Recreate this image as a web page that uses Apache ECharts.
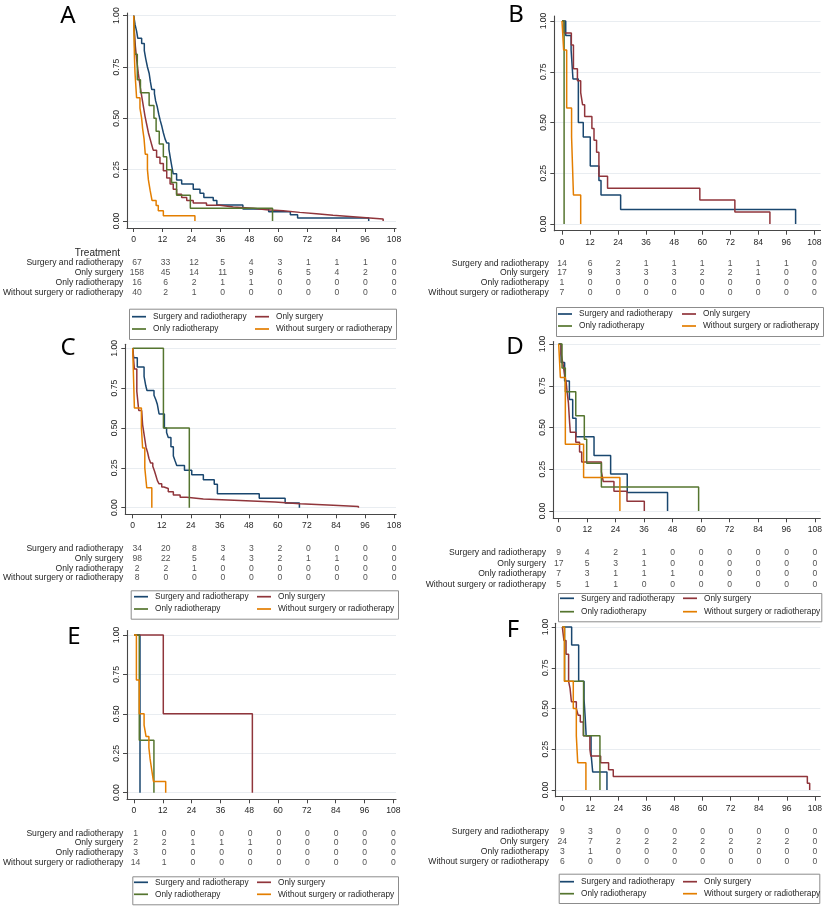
<!DOCTYPE html>
<html><head><meta charset="utf-8">
<script src="https://cdn.jsdelivr.net/npm/echarts@6/dist/echarts.min.js"></script>
<style>html,body{margin:0;padding:0;background:#fff}#c{width:825px;height:908px}</style>
</head><body><div id="c"></div>
<script>
// ---------- shared categories / ticks ----------
const ticks = [0,12,24,36,48,60,72,84,96,108];
const yTicks = [0,0.25,0.5,0.75,1];
const groups = ['Surgery and radiotherapy','Only surgery','Only radiotherapy','Without surgery or radiotherapy'];
const panelLetters = ['A','B','C','D','E','F'];

// ---------- Panel A ----------
const A_sr = [[0,1],[0.6,0.955],[1.2,0.925],[1.7,0.89],[3.3,0.865],[4.4,0.83],[5.0,0.79],[5.7,0.75],[6.4,0.72],[6.9,0.68],[7.5,0.64],[8.6,0.62],[9.1,0.585],[9.8,0.555],[10.4,0.52],[11.0,0.49],[11.7,0.46],[12.3,0.43],[13.0,0.40],[13.7,0.38],[14.6,0.35],[15.3,0.30],[15.9,0.26],[16.4,0.23],[17.8,0.20],[19.9,0.18],[24.7,0.155],[27.5,0.135],[29.1,0.115],[33.0,0.10],[34.5,0.078],[45.3,0.058],[56,0.045],[65,0.03],[68,0.015],[97.5,0]];
const A_os = [[0,1],[0.3,0.92],[0.7,0.85],[1.2,0.79],[1.9,0.72],[2.6,0.66],[3.3,0.61],[4.0,0.56],[4.7,0.51],[5.4,0.47],[6.1,0.43],[6.8,0.40],[7.5,0.37],[8.1,0.345],[9.5,0.31],[10.9,0.28],[12.3,0.245],[13.7,0.21],[15.1,0.18],[16.4,0.155],[17.8,0.13],[19.9,0.115],[22,0.10],[24.7,0.088],[30.2,0.077],[35.8,0.068],[41.3,0.062],[49.6,0.055],[55.1,0.05],[62,0.042],[68.9,0.035],[75.8,0.028],[82.7,0.022],[89.6,0.016],[96.5,0.01],[103.5,0]];
const A_or = [[0,1],[0.5,0.8125],[1.5,0.6875],[2.8,0.625],[6.4,0.5625],[8.4,0.5],[9.3,0.4375],[10.6,0.375],[12.3,0.3125],[13.7,0.25],[15.7,0.1875],[17.8,0.125],[23.5,0.0625],[57.6,0]];
const A_w = [[0,1],[0.3,0.8],[0.55,0.72],[1.2,0.6],[2.6,0.55],[3.3,0.5],[3.7,0.45],[4.3,0.4],[4.8,0.325],[5.7,0.25],[6.1,0.2],[6.8,0.15],[7.6,0.1],[9.3,0.075],[10.2,0.05],[12.3,0.025],[25.4,0]];
const A_risk_sr = [67,33,12,5,4,3,1,1,1,0];
const A_risk_os = [158,45,14,11,9,6,5,4,2,0];
const A_risk_or = [16,6,2,1,1,0,0,0,0,0];
const A_risk_w = [40,2,1,0,0,0,0,0,0,0];

// ---------- Panel B ----------
const B_sr = [[0,1],[1.6,0.929],[3.9,0.857],[4.7,0.714],[7.0,0.5],[9.1,0.429],[12.1,0.286],[15.8,0.214],[16.7,0.143],[25.1,0.0714],[100,0]];
const B_os = [[0,1],[0.9,0.941],[4.0,0.882],[4.9,0.765],[6.6,0.706],[8.0,0.647],[8.8,0.588],[9.7,0.529],[12.8,0.471],[13.7,0.412],[14.8,0.353],[15.8,0.235],[19.5,0.176],[59,0.118],[74,0.059],[89,0]];
const B_or = [[0,1],[0.9,0]];
const B_w = [[0,1],[0.7,0.857],[2.0,0.571],[4.1,0.429],[4.9,0.143],[8.0,0]];
const B_risk_sr = [14,6,2,1,1,1,1,1,1,0];
const B_risk_os = [17,9,3,3,3,2,2,1,0,0];
const B_risk_or = [1,0,0,0,0,0,0,0,0,0];
const B_risk_w = [7,0,0,0,0,0,0,0,0,0];

// ---------- Panel C ----------
const C_sr = [[0,1],[0.4,0.941],[1.9,0.882],[4.7,0.824],[5.4,0.765],[5.9,0.735],[8.8,0.706],[9.6,0.676],[10.2,0.647],[10.9,0.588],[13.1,0.5],[14.0,0.471],[14.7,0.441],[15.8,0.382],[16.8,0.324],[17.5,0.294],[18.2,0.265],[21.4,0.235],[24.4,0.206],[29.2,0.176],[33.7,0.147],[35.0,0.088],[52.3,0.059],[63.0,0.029],[68.9,0]];
const C_os = [[0,1],[0.7,0.87],[1.7,0.73],[2.5,0.61],[3.7,0.6],[4.1,0.52],[4.5,0.48],[5.0,0.43],[5.5,0.38],[6.1,0.35],[6.7,0.31],[7.4,0.28],[8.3,0.26],[9.0,0.23],[9.6,0.2],[10.2,0.17],[10.9,0.15],[12.0,0.13],[12.9,0.12],[14.7,0.1],[16.8,0.08],[19.6,0.065],[22.3,0.055],[29.2,0.045],[44.4,0.035],[58.8,0.025],[69.2,0.015],[82.9,0.008],[93.3,0]];
const C_or = [[0,1],[12.7,0.5],[23.4,0]];
const C_w = [[0,1],[0.7,0.625],[3.6,0.5],[4.1,0.375],[5.0,0.25],[5.8,0.125],[7.9,0]];
const C_risk_sr = [34,20,8,3,3,2,0,0,0,0];
const C_risk_os = [98,22,5,4,3,2,1,1,0,0];
const C_risk_or = [2,2,1,0,0,0,0,0,0,0];
const C_risk_w = [8,0,0,0,0,0,0,0,0,0];

// ---------- Panel D ----------
const D_sr = [[0,1],[1.0,0.889],[2.5,0.778],[4.5,0.667],[5.9,0.556],[7.3,0.444],[14.9,0.333],[21.9,0.222],[28.9,0.111],[45.9,0]];
const D_os = [[0,1],[1.0,0.941],[1.8,0.882],[2.4,0.824],[3.2,0.765],[3.6,0.706],[4.1,0.647],[4.6,0.529],[4.9,0.471],[7.2,0.412],[8.8,0.353],[9.7,0.294],[18.0,0.235],[18.8,0.176],[23.3,0.118],[28.8,0.059],[36.1,0]];
const D_or = [[0,1],[1.4,0.857],[2.8,0.714],[7.2,0.571],[10.8,0.429],[11.8,0.286],[18.0,0.143],[59.0,0]];
const D_w = [[0,1],[0.7,0.8],[2.8,0.4],[10.5,0.2],[25.8,0]];
const D_risk_sr = [9,4,2,1,0,0,0,0,0,0];
const D_risk_os = [17,5,3,1,0,0,0,0,0,0];
const D_risk_or = [7,3,1,1,1,0,0,0,0,0];
const D_risk_w = [5,1,1,0,0,0,0,0,0,0];

// ---------- Panel E ----------
const E_sr = [[0,1],[2.5,0]];
const E_os = [[0,1],[12.2,0.5],[49.3,0]];
const E_or = [[0,1],[2.2,0.333],[8.3,0]];
const E_w = [[0,1],[1.0,0.714],[2.2,0.5],[4.2,0.429],[5.0,0.357],[6.2,0.286],[6.7,0.214],[7.4,0.143],[8.1,0.071],[13.2,0]];
const E_risk_sr = [1,0,0,0,0,0,0,0,0,0];
const E_risk_os = [2,2,1,1,1,0,0,0,0,0];
const E_risk_or = [3,0,0,0,0,0,0,0,0,0];
const E_risk_w = [14,1,0,0,0,0,0,0,0,0];

// ---------- Panel F ----------
const F_sr = [[0,1],[4.0,0.889],[7.0,0.667],[9.3,0.556],[9.8,0.444],[10.2,0.333],[12.3,0.222],[13.0,0.111],[19.1,0]];
const F_os = [[0,1],[0.7,0.917],[1.6,0.833],[2.7,0.667],[3.3,0.625],[3.9,0.542],[6.0,0.5],[6.8,0.458],[7.7,0.417],[9.0,0.333],[11.8,0.25],[12.2,0.208],[16.4,0.167],[19.8,0.125],[21.8,0.083],[104.8,0.042],[105.8,0]];
const F_or = [[0,1],[1.0,0.667],[9.1,0.333],[16.1,0]];
const F_w = [[0,1],[0.9,0.667],[4.7,0.5],[6.0,0.333],[6.6,0.167],[10.1,0]];
const F_risk_sr = [9,3,0,0,0,0,0,0,0,0];
const F_risk_os = [24,7,2,2,2,2,2,2,2,0];
const F_risk_or = [3,1,0,0,0,0,0,0,0,0];
const F_risk_w = [6,0,0,0,0,0,0,0,0,0];

const curves = {A:[A_sr,A_os,A_or,A_w],B:[B_sr,B_os,B_or,B_w],C:[C_sr,C_os,C_or,C_w],D:[D_sr,D_os,D_or,D_w],E:[E_sr,E_os,E_or,E_w],F:[F_sr,F_os,F_or,F_w]};
const risks = {A:[A_risk_sr,A_risk_os,A_risk_or,A_risk_w],B:[B_risk_sr,B_risk_os,B_risk_or,B_risk_w],C:[C_risk_sr,C_risk_os,C_risk_or,C_risk_w],D:[D_risk_sr,D_risk_os,D_risk_or,D_risk_w],E:[E_risk_sr,E_risk_os,E_risk_or,E_risk_w],F:[F_risk_sr,F_risk_os,F_risk_or,F_risk_w]};

// ---------- styling / layout (pixels) ----------
const colors = ['#1a476f','#90353b','#55752f','#e37e00'];
const FONT = '"Liberation Sans", Arial, sans-serif';
const TXT = '#262626';
const AX = '#474747';
const layout = {
  A:{x0:133.7,x108:394,left:127,right:396,y1:15.7,y0:221,top:13,bottom:228,rowTop:258.1,rowH:39.1,rowM:7,box:[127,306.7,394,337],rows:[316.7,329],l1:132,l2:255,letter:[68,16]},
  B:{x0:562,x108:814.3,left:554.3,right:820.5,y1:21,y0:224,top:16,bottom:230.7,rowTop:258.5,rowH:38.7,rowM:5.6,box:[554,305,821,334],rows:[314,326],l1:558,l2:682,letter:[516,15]},
  C:{x0:132.7,x108:394,left:125.3,right:396,y1:348.3,y0:507.7,top:344.3,bottom:514.3,rowTop:543.4,rowH:39.6,rowM:6.6,box:[128.7,588.3,396,616.7],rows:[596.7,609],l1:134,l2:257,letter:[68,348]},
  D:{x0:558.7,x108:815,left:553.3,right:820.5,y1:344,y0:511,top:341.5,bottom:518.3,rowTop:547.4,rowH:42.1,rowM:7.3,box:[556,591,819.3,619.3],rows:[598.3,611.7],l1:560,l2:683,letter:[515,347]},
  E:{x0:134,x108:393.3,left:127,right:396,y1:635,y0:792.7,top:630.5,bottom:799.3,rowTop:828.4,rowH:39.2,rowM:5.3,box:[130.3,874.3,396,902.3],rows:[882.3,894.3],l1:134,l2:257,letter:[74,637]},
  F:{x0:562.3,x108:815,left:555.7,right:820.5,y1:627,y0:790,top:623.3,bottom:796.7,rowTop:826.7,rowH:40,rowM:7,box:[556.7,871.7,817.3,901],rows:[881.7,893.7],l1:560,l2:683,letter:[513,630]}
};

const option = {animation:false, backgroundColor:'#fff', grid:[], xAxis:[], yAxis:[], series:[], legend:[], graphic:[]};

panelLetters.forEach((P, pi) => {
  const L = layout[P];
  const sx = (L.x108 - L.x0) / 108;
  const xmin = -(L.x0 - L.left) / sx, xmax = 108 + (L.right - L.x108) / sx;
  const sy = (L.y0 - L.y1);
  const ymin = -(L.bottom - L.y0) / sy, ymax = 1 + (L.y1 - L.top) / sy;
  const g = option.grid.length;
  // main plot grid
  option.grid.push({left:L.left, top:L.top, width:L.right - L.left, height:L.bottom - L.top, containLabel:false});
  option.xAxis.push({type:'value', gridIndex:g, min:xmin, max:xmax,
    axisLine:{show:true, onZero:false, lineStyle:{color:AX, width:1.1}},
    axisTick:{show:true, length:4, inside:false, customValues:ticks, lineStyle:{color:AX}},
    axisLabel:{customValues:ticks, fontSize:8.6, color:TXT, margin:7, fontFamily:FONT},
    splitLine:{show:false}});
  option.yAxis.push({type:'value', gridIndex:g, min:ymin, max:ymax,
    axisLine:{show:true, onZero:false, lineStyle:{color:AX, width:1.1}},
    axisTick:{show:true, length:4, customValues:yTicks, lineStyle:{color:AX}},
    axisLabel:{customValues:yTicks, rotate:90, fontSize:8.6, color:TXT, margin:6, fontFamily:FONT, formatter:v => v.toFixed(2)},
    splitLine:{show:true, lineStyle:{color:'#e9edf1', width:1}}});
  curves[P].forEach((d, k) => {
    option.series.push({type:'line', name:groups[k], xAxisIndex:g, yAxisIndex:g, data:d, step:'end', symbol:'none',
      lineStyle:{color:colors[k], width:1.5}, itemStyle:{color:colors[k]}, silent:true, z:2+k});
  });
  // risk table grid
  const gr = option.grid.length;
  option.grid.push({left:L.left, top:L.rowTop, width:L.right - L.left, height:L.rowH, containLabel:false});
  option.xAxis.push({type:'value', gridIndex:gr, min:xmin, max:xmax, show:false});
  option.yAxis.push({type:'category', gridIndex:gr, data:groups, inverse:true,
    axisLine:{show:false}, axisTick:{show:false}, splitLine:{show:false},
    axisLabel:{interval:0, fontSize:8.6, color:TXT, margin:L.rowM, fontFamily:FONT}});
  const pts = [];
  risks[P].forEach((arr, k) => arr.forEach((v, i) => pts.push([ticks[i], groups[k], v])));
  option.series.push({type:'scatter', name:'risk'+P, xAxisIndex:gr, yAxisIndex:gr, data:pts, symbolSize:1,
    itemStyle:{color:'rgba(0,0,0,0)'}, silent:true,
    label:{show:true, position:'inside', formatter:p => String(p.data[2]), fontSize:8.6, color:TXT, fontFamily:FONT}});
  // legends (two columns)
  const gap = (L.rows[1] - L.rows[0]) - 12;
  const legBase = {orient:'vertical', itemGap:gap, itemWidth:14, itemHeight:1.7, icon:'rect', padding:0, selectedMode:false,
    top:L.rows[0] - 6, textStyle:{fontSize:8.3, color:TXT, fontFamily:FONT, lineHeight:12, padding:[0,0,0,2]}};
  option.legend.push(Object.assign({}, legBase, {left:L.l1, data:[groups[0], groups[2]]}));
  option.legend.push(Object.assign({}, legBase, {left:L.l2, data:[groups[1], groups[3]]}));
  option.graphic.push({type:'rect', left:L.box[0], top:L.box[1], shape:{width:L.box[2]-L.box[0], height:L.box[3]-L.box[1]},
    style:{fill:'none', stroke:'#8c8c8c', lineWidth:1}, silent:true});
  option.graphic.push({type:'text', x:L.letter[0], y:L.letter[1], style:{text:P, fill:'#000', font:'24px "Noto Sans", "Open Sans", sans-serif', textAlign:'center', textVerticalAlign:'middle'}});
});
option.graphic.push({type:'text', x:120, y:253, style:{text:'Treatment', fill:TXT, font:'10px "Liberation Sans", Arial, sans-serif', textAlign:'right', textVerticalAlign:'middle'}});

const chart = echarts.init(document.getElementById('c'), null, {renderer:'canvas'});
chart.setOption(option);
</script></body></html>
